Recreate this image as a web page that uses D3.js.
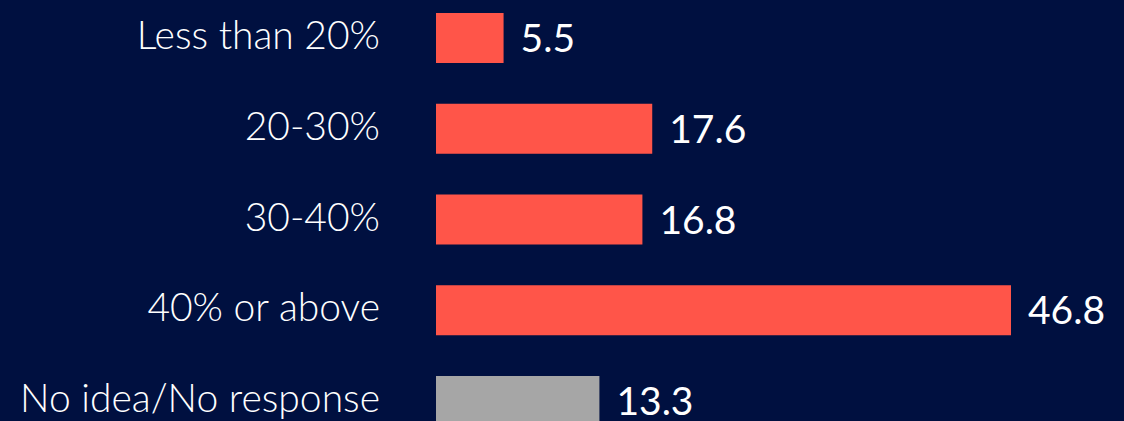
<!DOCTYPE html>
<html>
<head>
<meta charset="utf-8">
<script src="https://cdn.jsdelivr.net/npm/d3@7"></script>
<style>
  html, body { margin: 0; padding: 0; background: #001040; }
  svg { display: block; }
</style>
</head>
<body>
<svg id="chart"></svg>
<script>
const categories = ['Less than 20%', '20-30%', '30-40%', '40% or above', 'No idea/No response'];
const values = [5.5, 17.6, 16.8, 46.8, 13.3];
const barColors = ['#ff5549', '#ff5549', '#ff5549', '#ff5549', '#a6a6a6'];

const W = 1124, H = 421;
const svg = d3.select('#chart').attr('width', W).attr('height', H);

svg.append('rect').attr('width', W).attr('height', H).attr('fill', '#001040');

// scales
const x = d3.scaleLinear().domain([0, 46.8]).range([436, 1011]);
const y = d3.scaleBand()
  .domain(categories)
  .range([13, 426])
  .paddingInner(0.449)
  .paddingOuter(0);

const font = 'Lato, "Open Sans", sans-serif';

// bars
svg.selectAll('rect.bar')
  .data(categories)
  .join('rect')
  .attr('class', 'bar')
  .attr('x', x(0))
  .attr('y', d => y(d))
  .attr('width', (d, i) => x(values[i]) - x(0))
  .attr('height', y.bandwidth())
  .attr('fill', (d, i) => barColors[i]);

// category labels
svg.selectAll('text.cat')
  .data(categories)
  .join('text')
  .attr('class', 'cat')
  .attr('x', 380)
  .attr('y', d => y(d) + y.bandwidth() / 2 + 11)
  .attr('text-anchor', 'end')
  .style('font-family', font)
  .style('font-size', '39px')
  .style('font-weight', 300)
  .attr('fill', '#ffffff')
  .text(d => d);

// value labels
svg.selectAll('text.val')
  .data(categories)
  .join('text')
  .attr('class', 'val')
  .attr('x', (d, i) => x(values[i]) + 17)
  .attr('y', d => y(d) + y.bandwidth() / 2 + 14)
  .style('font-family', font)
  .style('font-size', '39px')
  .style('font-weight', 400)
  .attr('fill', '#ffffff')
  .text((d, i) => values[i].toFixed(1));
</script>
</body>
</html>
